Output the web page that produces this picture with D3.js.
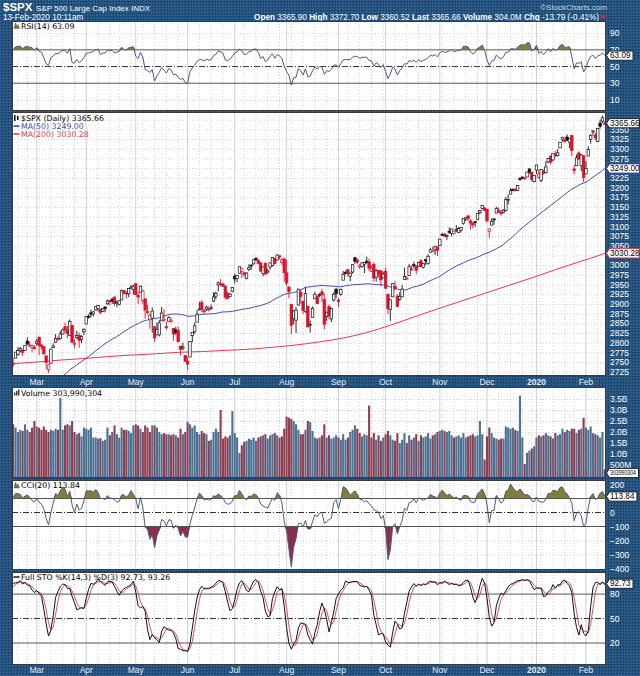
<!DOCTYPE html>
<html><head><meta charset="utf-8">
<script src="https://cdn.jsdelivr.net/npm/d3@7"></script>
<style>body{margin:0;background:#24517e}svg{display:block}</style>
</head><body><svg id="c" width="640" height="676"></svg>
<script>
// ---------------- DATA ----------------
// Daily OHLC of $SPX, 2 Jan 2019 .. 13 Feb 2020 (Jan 2019 - 13 Feb 2019 only used as indicator warm-up)
const opens = [
2477,2492,2474,2536,2568,2580,2573,2588,2580,2585,2614,2609,2651,2657,2643,2638,2657,2644,2644,2654,2686,
2702,2706,2727,2735,2717,2692,2712,2722,2750,2744,2760,2769,2779,2781,2780,2804,2792,2787,2788,
2798,2814,2794,2790,2766,2730,2747,2787,2800,2811,2810,2822,2841,2831,2819,2844,2796,2813,2819,2809,2828,
2848,2868,2877,2874,2884,2888,2886,2881,2892,2900,2908,2912,2916,2904,2899,2910,2934,2928,2926,2941,2937,
2952,2922,2929,2908,2913,2880,2859,2863,2841,2820,2820,2856,2859,2841,2855,2856,2837,2833,2831,2791,2786,2767,
2752,2763,2818,2828,2853,2886,2903,2882,2886,2887,2889,2907,2920,2949,2952,2951,2946,2926,2919,2932,
2971,2965,2979,2984,2980,2965,2989,3000,3003,3018,3012,3006,2978,3005,2982,2995,2999,3017,3013,3024,3007,3016,
2980,2943,2899,2862,2858,2897,2930,2907,2880,2894,2847,2865,2913,2919,2922,2931,2911,2867,2893,2861,2910,2938,
2910,2925,2961,2981,2988,2971,2982,3019,3013,2997,2996,3002,3010,3008,2984,3002,2969,2986,2985,2967,
2984,2925,2885,2918,2945,2920,2912,2918,2963,2965,2973,2990,3001,2996,2997,3011,2994,3014,3004,3033,3036,3040,3047,
3050,3079,3080,3075,3087,3082,3081,3090,3084,3090,3107,3118,3127,3114,3108,3112,3118,3135,3146,3147,
3144,3087,3103,3119,3134,3141,3136,3136,3141,3167,3183,3195,3195,3192,3223,3227,3225,3227,3248,3240,3215,
3245,3226,3218,3242,3238,3266,3281,3271,3285,3282,3302,3324,3321,3330,3316,3334,3248,3256,3289,3256,3282,
3235,3281,3324,3344,3335,3319,3366,3371,3365.9];
const highs = [
2519,2493,2538,2566,2580,2595,2598,2596,2589,2613,2625,2645,2675,2658,2653,2647,2673,2645,2655,2690,2708,
2716,2725,2738,2739,2719,2708,2718,2749,2762,2761,2776,2788,2789,2782,2793,2814,2804,2795,2793,
2809,2816,2796,2790,2767,2744,2784,2798,2822,2816,2830,2836,2852,2843,2860,2846,2809,2830,2826,2819,2837,
2869,2873,2885,2881,2893,2895,2886,2889,2893,2911,2909,2916,2921,2908,2910,2937,2936,2933,2940,2949,2949,
2954,2931,2947,2937,2913,2898,2875,2891,2841,2852,2859,2892,2886,2853,2868,2865,2837,2841,2841,2792,2800,2768,
2763,2804,2827,2852,2884,2905,2910,2888,2895,2894,2898,2930,2932,2958,2964,2955,2947,2932,2929,2943,
2978,2973,2996,2994,2981,2981,3002,3002,3014,3018,3015,3006,2996,3007,2991,3006,3020,3017,3028,3025,3018,3017,
3014,2946,2899,2884,2892,2939,2936,2907,2943,2894,2857,2893,2931,2923,2928,2939,2927,2880,2899,2890,2930,2940,
2915,2939,2985,2985,2989,2980,3002,3021,3017,3003,3006,3008,3022,3017,2999,3007,2990,2987,2988,2983,
2993,2925,2911,2953,2959,2925,2930,2949,2993,2972,3003,2998,3009,3000,3008,3015,3005,3016,3028,3044,3048,3050,3047,
3067,3083,3083,3079,3097,3093,3088,3103,3098,3098,3120,3124,3128,3118,3111,3112,3133,3142,3154,3150,
3144,3094,3120,3120,3150,3149,3142,3144,3176,3182,3198,3198,3199,3206,3226,3228,3226,3240,3248,3240,3231,
3258,3247,3247,3245,3268,3276,3282,3288,3295,3299,3317,3330,3329,3337,3326,3334,3258,3285,3293,3286,3282,
3268,3306,3337,3347,3341,3353,3375,3385,3372.7];
const lows = [
2467,2444,2474,2525,2548,2568,2562,2577,2570,2585,2612,2606,2647,2617,2612,2627,2657,2619,2633,2648,2678,
2697,2700,2724,2728,2687,2682,2704,2722,2748,2738,2760,2767,2775,2765,2779,2794,2789,2775,2782,
2792,2768,2782,2768,2732,2722,2747,2786,2800,2804,2808,2822,2823,2811,2817,2800,2785,2809,2787,2799,2819,
2848,2862,2865,2867,2883,2880,2873,2879,2878,2898,2896,2900,2895,2891,2896,2910,2926,2913,2917,2939,2924,
2923,2900,2929,2900,2862,2873,2836,2826,2801,2820,2816,2856,2854,2832,2855,2852,2805,2820,2801,2767,2780,2750,
2729,2763,2801,2823,2853,2885,2878,2874,2882,2880,2886,2905,2912,2932,2946,2944,2911,2912,2917,2930,
2953,2956,2979,2967,2970,2963,2984,2988,3001,3010,3002,2984,2971,2976,2978,2988,2996,3001,3012,3015,3000,2958,
2945,2914,2822,2847,2825,2895,2900,2874,2877,2839,2826,2865,2913,2899,2917,2905,2834,2856,2860,2853,2906,2914,
2891,2921,2961,2976,2970,2958,2978,3003,3002,2990,2993,2979,3003,2984,2982,2957,2957,2968,2946,2967,
2938,2874,2856,2918,2935,2892,2907,2918,2963,2962,2973,2986,2992,2976,2995,2995,2991,3000,3001,3033,3035,3026,3023,
3050,3075,3072,3065,3080,3074,3078,3085,3083,3084,3104,3113,3114,3091,3095,3099,3118,3131,3143,3140,
3110,3070,3103,3104,3134,3135,3127,3134,3138,3156,3183,3191,3191,3191,3217,3221,3220,3227,3235,3216,3213,
3235,3223,3214,3233,3236,3263,3260,3268,3277,3280,3302,3318,3316,3320,3301,3281,3234,3256,3271,3242,3214,
3235,3281,3313,3334,3322,3317,3352,3366,3360.5];
const closes = [
2510.0,2447.9,2531.9,2549.7,2574.4,2585.0,2596.6,2596.3,2582.6,2610.3,2616.1,2636.0,2670.7,2632.9,2638.7,2642.3,2664.8,2643.9,2640.0,2681.1,2704.1,
2706.5,2724.9,2737.7,2731.6,2706.1,2707.9,2709.8,2744.7,2753.0,2745.7,2775.6,2779.8,2784.7,2774.9,2792.7,2796.1,2793.9,2792.4,2784.5,
2803.7,2792.8,2789.7,2771.5,2748.9,2743.1,2783.3,2791.5,2810.9,2808.5,2822.5,2832.9,2832.6,2824.2,2854.9,2800.7,2798.4,2818.5,2805.4,2815.4,2834.4,
2867.2,2867.2,2873.4,2879.4,2892.7,2895.8,2878.2,2888.2,2888.3,2907.4,2905.6,2907.1,2900.5,2905.0,2908.0,2933.7,2927.3,2926.2,2939.9,2943.0,2945.8,
2923.7,2917.5,2945.6,2932.5,2884.1,2879.4,2870.7,2881.4,2811.9,2834.4,2851.0,2876.3,2859.5,2840.2,2864.4,2856.3,2822.2,2826.1,2802.4,2783.0,2788.9,2752.1,
2744.5,2803.3,2826.2,2843.5,2873.3,2886.7,2885.7,2879.8,2891.6,2887.0,2889.7,2917.8,2926.5,2954.2,2950.5,2945.4,2917.4,2913.8,2924.9,2941.8,
2964.3,2973.0,2995.8,2990.4,2976.0,2979.6,2993.1,2999.9,3013.8,3014.3,3004.0,2984.4,2995.1,2976.6,2985.0,3005.5,3019.6,3003.7,3025.9,3021.0,3013.2,2980.4,
2953.6,2932.1,2844.7,2881.8,2884.0,2938.1,2918.7,2882.7,2926.3,2840.6,2847.6,2888.7,2923.7,2900.5,2924.4,2923.0,2847.1,2878.4,2869.2,2887.9,2924.6,2926.5,
2906.3,2937.8,2976.0,2978.7,2978.4,2979.4,3000.9,3009.6,3007.4,2998.0,3005.7,3006.7,3006.8,2992.1,2991.8,2966.6,2984.9,2977.6,2961.8,2976.7,
2940.3,2887.6,2910.6,2952.0,2938.8,2893.1,2919.4,2938.1,2970.3,2966.2,2995.7,2989.7,2998.0,2986.2,3006.7,2996.0,3004.5,3010.3,3022.6,3039.4,3036.9,3046.8,3037.6,
3066.9,3078.3,3074.6,3076.8,3085.2,3093.1,3087.0,3091.8,3094.0,3096.6,3120.5,3122.0,3120.2,3108.5,3103.5,3110.3,3133.6,3140.5,3153.6,3141.0,
3113.9,3093.2,3112.8,3117.4,3145.9,3136.0,3132.5,3141.6,3168.6,3168.8,3191.5,3192.5,3191.1,3205.4,3221.2,3224.0,3223.4,3239.9,3240.0,3221.3,3230.8,
3257.9,3234.9,3246.3,3237.2,3253.1,3274.7,3265.4,3288.1,3283.2,3289.3,3316.8,3329.6,3320.8,3321.8,3325.5,3295.5,3243.6,3276.2,3273.4,3283.7,3225.5,
3248.9,3297.6,3334.7,3345.8,3327.7,3352.1,3357.8,3379.5,3365.66];
// Volume (billions) for the displayed bars, 14 Feb 2019 .. 13 Feb 2020
const volumes = [
2.35,2.2,2.0,2.1,2.05,2.35,2.1,2.0,2.2,2.5,
2.25,2.2,2.1,2.25,2.1,2.0,2.1,2.05,2.15,2.1,3.55,2.1,2.3,2.35,2.3,2.5,2.0,1.9,1.95,1.8,2.2,
2.15,2.1,2.2,1.75,1.75,1.7,1.72,1.6,1.65,2.2,1.85,2.0,2.3,1.9,1.75,2.2,2.1,2.1,2.05,1.95,2.3,
2.35,2.3,2.15,2.0,2.3,2.2,2.0,2.3,2.3,2.2,2.0,1.9,1.95,1.9,1.9,1.85,1.9,1.85,1.75,2.15,1.9,2.0,
2.45,2.35,2.2,2.3,2.0,1.9,2.05,1.95,1.9,1.6,1.65,2.0,2.15,2.0,3.0,1.7,1.8,1.75,1.85,2.95,
1.95,1.75,1.05,1.4,1.55,1.6,1.7,1.65,1.75,1.6,1.75,1.8,1.85,1.9,1.7,1.85,1.9,1.95,1.85,1.75,1.8,2.15,
2.7,2.65,2.6,2.5,2.35,2.1,1.9,1.9,2.1,2.5,2.45,2.05,1.75,1.7,1.75,1.85,2.35,1.75,1.85,1.7,1.75,1.85,
1.75,1.65,1.9,1.65,1.75,2.0,2.1,2.3,2.15,1.95,1.8,1.9,1.85,3.2,1.75,1.95,1.65,1.85,1.6,1.75,
1.9,2.05,1.85,1.65,1.6,1.95,1.5,1.65,1.95,1.5,1.85,1.65,1.75,1.9,1.6,1.85,1.75,1.8,1.95,1.7,1.85,1.9,2.0,
2.05,2.1,2.05,2.0,2.05,1.85,1.75,1.8,1.85,1.75,1.95,1.75,1.8,1.85,1.9,1.8,1.85,2.5,1.9,0.75,
1.8,2.2,1.95,1.75,1.7,1.65,1.7,1.7,2.25,2.2,2.15,2.2,2.1,2.05,3.65,1.75,0.55,1.05,1.15,1.25,1.35,
1.75,1.85,1.8,1.85,1.95,1.85,1.8,1.7,1.95,1.85,1.9,2.15,2.0,2.1,2.05,2.15,2.15,1.95,2.1,2.15,2.65,
2.2,2.1,2.25,1.95,1.9,1.85,1.75,2.0,0.304];
// MA(200), at displayed-bar positions
const ma200Bars   = [0,10,20,30,40,50,60,70,80,90,100,110,120,130,140,150,160,170,180,190,200,210,220,230,240,250,251];
const ma200Values = [2746,2750,2755,2759,2764,2768,2771,2775,2777,2780,2783,2788,2794,2802,2812,2826,2845,2866,2887,2907,2927,2947,2967,2988,3008,3028,3030.28];
const holidays = ["2019-01-21","2019-02-18","2019-04-19","2019-05-27","2019-07-04","2019-09-02","2019-11-28","2019-12-25","2020-01-01","2020-01-20"];
const priceTicks = [2725,2750,2775,2800,2825,2850,2875,2900,2925,2950,2975,3000,3025,3050,3075,3100,3125,3150,3175,3200,3225,3250,3275,3300,3325,3350,3375];
const rsiTicks = [10,30,50,70,90];
const volTicks = [0.5,1.0,1.5,2.0,2.5,3.0,3.5];
const cciTicks = [200,100,0,-100,-200,-300,-400];
const stoTicks = [80,50,20];
const lastValues = {rsi:"63.09", price:"3365.66", ma50:"3249.00", ma200:"3030.28", vol:"303,990,304", cci:"113.84", k:"92.73", d:"93.26"};
const quoteLabels = ["Open","High","Low","Last","Volume","Chg"];
const quoteValues = ["3365.90","3372.70","3360.52","3365.66","304.0M","-13.79 (-0.41%)"];

// ---------------- SETUP ----------------
const W=640,H=676,L=12,R=606;
const svg=d3.select("#c");
const defs=svg.append("defs");
const pat=defs.append("pattern").attr("id","tex").attr("width",3).attr("height",3).attr("patternUnits","userSpaceOnUse");
pat.append("rect").attr("width",3).attr("height",3).attr("fill","#24507c");
pat.append("rect").attr("x",0).attr("y",0).attr("width",1).attr("height",1).attr("fill","#3c6f9f");
pat.append("rect").attr("x",2).attr("y",1).attr("width",1).attr("height",1).attr("fill","#163a60");
pat.append("rect").attr("x",1).attr("y",2).attr("width",1).attr("height",1).attr("fill","#2e5e8c");
svg.append("rect").attr("width",W).attr("height",H).attr("fill","url(#tex)");

function tradingDays(s,e){const out=[];const d=new Date(s+"T00:00:00Z"),end=new Date(e+"T00:00:00Z");
  while(d<=end){const wd=d.getUTCDay(),k=d.toISOString().slice(0,10);
    if(wd>0&&wd<6&&!holidays.includes(k))out.push(new Date(d));d.setUTCDate(d.getUTCDate()+1);}return out;}
const dates=tradingDays("2019-01-02","2020-02-13");
const N=closes.length, OFF=N-volumes.length;
const vis=d3.range(OFF,N);
const x=d3.scaleBand().domain(vis).range([L,R]);
const bw=x.bandwidth(), cx=i=>x(i)+bw/2;

// ---------------- INDICATORS (from the price arrays) ----------------
const rsi=new Array(N).fill(null);
{let ag=0,al=0;for(let i=1;i<=14;i++){const c=closes[i]-closes[i-1];if(c>0)ag+=c;else al-=c;}ag/=14;al/=14;rsi[14]=100-100/(1+ag/al);
 for(let i=15;i<N;i++){const c=closes[i]-closes[i-1];ag=(ag*13+Math.max(c,0))/14;al=(al*13+Math.max(-c,0))/14;rsi[i]=100-100/(1+ag/al);}}
const tp=closes.map((c,i)=>(c+highs[i]+lows[i])/3);
const cci=new Array(N).fill(null);
for(let i=19;i<N;i++){const s=tp.slice(i-19,i+1);const m=d3.mean(s);const md=d3.mean(s,v=>Math.abs(v-m));cci[i]=(tp[i]-m)/(0.015*md);}
const rawK=new Array(N).fill(null),K=new Array(N).fill(null),D=new Array(N).fill(null);
for(let i=13;i<N;i++){const hh=d3.max(highs.slice(i-13,i+1)),ll=d3.min(lows.slice(i-13,i+1));rawK[i]=(closes[i]-ll)/(hh-ll)*100;}
for(let i=15;i<N;i++)K[i]=(rawK[i]+rawK[i-1]+rawK[i-2])/3;
for(let i=17;i<N;i++)D[i]=(K[i]+K[i-1]+K[i-2])/3;
const ma50=new Array(N).fill(null);
for(let i=49;i<N;i++)ma50[i]=d3.mean(closes.slice(i-49,i+1));

// ---------------- PANELS ----------------
const P={rsi:[21,111],price:[112,376],vol:[387,478],cci:[480,570],sto:[572,665]};
const yR=d3.scaleLinear().domain([0,100]).range([108.3,24.8]);
const yP=d3.scaleLinear().domain([2714,3394.6]).range([376,112]);
const yV=d3.scaleLinear().domain([0,4]).range([476,388]);
const yC=d3.scaleLinear().domain([-400,200]).range([568.5,484.5]);
const yS=d3.scaleLinear().domain([0,100]).range([659.3,577.8]);

const monthStarts=vis.filter(i=>i>OFF&&dates[i].getUTCMonth()!==dates[i-1].getUTCMonth());
const weekStarts=vis.filter(i=>i>OFF&&(dates[i].getUTCDay()<=dates[i-1].getUTCDay()||(dates[i]-dates[i-1])>=6*864e5));
const FONT="'DejaVu Sans',Verdana,sans-serif", AFONT="'Liberation Sans',Arial,sans-serif";

function panel(key,hGrid,yS_){
  const [t,b]=P[key];
  svg.append("rect").attr("x",L).attr("y",t).attr("width",R-L).attr("height",b-t).attr("fill","#fff");
  defs.append("clipPath").attr("id","clip-"+key).append("rect").attr("x",L).attr("y",t).attr("width",R-L).attr("height",b-t);
  const g=svg.append("g").attr("clip-path",`url(#clip-${key})`);
  g.selectAll(null).data(weekStarts).join("line").attr("x1",cx).attr("x2",cx).attr("y1",t).attr("y2",b)
    .attr("stroke","#c9c9c9").attr("stroke-width",0.8).attr("stroke-dasharray","1,2");
  g.selectAll(null).data(monthStarts).join("line").attr("x1",cx).attr("x2",cx).attr("y1",t).attr("y2",b)
    .attr("stroke","#d2d2d2").attr("stroke-width",1);
  g.selectAll(null).data(hGrid).join("line").attr("x1",L).attr("x2",R).attr("y1",d=>yS_(d)+0.5).attr("y2",d=>yS_(d)+0.5)
    .attr("stroke","#c9c9c9").attr("stroke-width",0.8).attr("stroke-dasharray","1,2");
  return g;
}
function frame(key){const [t,b]=P[key];
  svg.append("rect").attr("x",L+0.5).attr("y",t+0.5).attr("width",R-L-1).attr("height",b-t-1).attr("fill","none").attr("stroke","#3a3a3a").attr("stroke-width",1);}
function level(g,y,v,dash){g.append("line").attr("x1",L).attr("x2",R).attr("y1",y(v)).attr("y2",y(v))
  .attr("stroke",dash?"#333":"#555").attr("stroke-width",1).attr("stroke-dasharray",dash?"6,2,1,2":null);}
function rightAxis(scale,vals,fmt,avoid){
  const keep=vals.filter(v=>(avoid||[]).every(a=>Math.abs(scale(v)-a)>=5.5));
  const g=svg.append("g").attr("transform",`translate(${R+4},0)`)
    .call(d3.axisRight(scale).tickValues(keep).tickFormat(fmt).tickSize(0).tickPadding(0));
  g.select(".domain").remove();
  g.selectAll("text").attr("fill","#fff").style("font-family",AFONT).style("font-size","8.5px");
}
function boxLabel(y,text,border,fs,maxW){
  const g=svg.append("g");
  const t=g.append("text").attr("x",R+4).attr("y",y).attr("dy","0.33em").style("font-family",AFONT).style("font-size",(fs||8.2)+"px").attr("fill","#000").text(text);
  let w=t.node().getComputedTextLength();
  if(maxW&&w>maxW){t.attr("textLength",maxW).attr("lengthAdjust","spacingAndGlyphs");w=maxW;}
  const x0=R+0.5,x1=Math.min(639.5,R+5+w+1.5);
  g.insert("path","text").attr("d",`M${x0},${y}L${x0+3},${y-4.6}L${x1},${y-4.6}L${x1},${y+4.6}L${x0+3},${y+4.6}Z`)
    .attr("fill","#fff").attr("stroke",border).attr("stroke-width",1);
}
function legend(key,y,parts,icon){
  const t=svg.append("text").attr("x",21).attr("y",y).style("font-family",FONT).style("font-size","7.8px");
  parts.forEach(p=>t.append("tspan").attr("fill",p[1]).text(p[0]));
  if(icon)icon(y);
}
const mountain=(y)=>svg.append("path").attr("d",`M14,${y}L15.5,${y-6}L17,${y-2}L18,${y-4}L19.5,${y}Z`).attr("fill","#7d7434").attr("stroke","#444").attr("stroke-width",0.4);

// ---------------- HEADER ----------------
svg.append("text").attr("x",3).attr("y",11).attr("fill","#fff").style("font-family",AFONT).style("font-weight","bold").style("font-size","11.5px").text("$SPX");
svg.append("text").attr("x",36).attr("y",10.5).attr("fill","#fff").style("font-family",AFONT).style("font-size","8px").text("S&P 500 Large Cap Index  INDX");
svg.append("text").attr("x",607).attr("y",10).attr("text-anchor","end").attr("fill","#c8d4e2").style("font-family",AFONT).style("font-size","8px").text("\u00A9StockCharts.com");
svg.append("text").attr("x",3).attr("y",19.8).attr("fill","#fff").style("font-family",AFONT).style("font-size","8.2px").text("13-Feb-2020 10:11am");
{const t=svg.append("text").attr("x",599).attr("y",19.8).attr("text-anchor","end").attr("fill","#fff").style("font-family",AFONT).style("font-size","8.2px");
 quoteLabels.forEach((l,i)=>{t.append("tspan").style("font-weight","bold").text((i?"  ":"")+l+" ");t.append("tspan").text(quoteValues[i]);});
 svg.append("path").attr("d","M601,15.5L606,15.5L603.5,20Z").attr("fill","#e8202a");}

// ---------------- RSI ----------------
{const g=panel("rsi",[10,90],yR);
 const ar=d3.area().x(cx).y0(yR(70)).y1(i=>yR(Math.max(rsi[i],70)));
 g.append("path").datum(vis).attr("d",ar).attr("fill","#857b3b");
 const ar2=d3.area().x(cx).y0(yR(30)).y1(i=>yR(Math.min(rsi[i],30)));
 g.append("path").datum(vis).attr("d",ar2).attr("fill","#8c2c50");
 level(g,yR,70);level(g,yR,30);level(g,yR,50,true);
 g.append("path").datum(vis).attr("d",d3.line().x(cx).y(i=>yR(rsi[i]))).attr("fill","none").attr("stroke","#4d5d78").attr("stroke-width",1);
 frame("rsi");
 legend("rsi",28.5,[["RSI(14) "+lastValues.rsi,"#000"]],mountain);
 rightAxis(yR,rsiTicks,d3.format("d"),[yR(+lastValues.rsi)]);boxLabel(yR(+lastValues.rsi),lastValues.rsi,"#222");}

// ---------------- PRICE ----------------
{const g=panel("price",priceTicks,yP);
 g.append("path").datum(ma200Bars).attr("d",d3.line().curve(d3.curveMonotoneX).x(b=>cx(OFF+b)).y((b,k)=>yP(ma200Values[k])))
   .attr("fill","none").attr("stroke","#e8374a").attr("stroke-width",1);
 g.append("path").datum(vis.filter(i=>ma50[i]!=null)).attr("d",d3.line().x(cx).y(i=>yP(ma50[i])))
   .attr("fill","none").attr("stroke","#3d4aa6").attr("stroke-width",1);
 const col=i=>closes[i]>=closes[i-1]?"#111":"#e0102a";
 const c=g.selectAll(null).data(vis).join("g");
 c.append("line").attr("x1",i=>cx(i)).attr("x2",i=>cx(i)).attr("y1",i=>yP(highs[i])).attr("y2",i=>yP(lows[i])).attr("stroke",col).attr("stroke-width",0.9);
 c.append("rect").attr("x",i=>cx(i)-1.25).attr("width",2.5)
   .attr("y",i=>yP(Math.max(opens[i],closes[i])))
   .attr("height",i=>Math.max(1,Math.abs(yP(opens[i])-yP(closes[i]))))
   .attr("fill",i=>closes[i]>opens[i]?"#fff":col(i)).attr("stroke",col).attr("stroke-width",0.7);
 frame("price");
 legend("price",121,[["$SPX (Daily) "+lastValues.price,"#000"]],y=>{svg.append("rect").attr("x",14).attr("y",y-6).attr("width",1.5).attr("height",6).attr("fill","#000");svg.append("rect").attr("x",17).attr("y",y-5).attr("width",1.5).attr("height",4).attr("fill","#000");});
 legend("price",128.6,[["MA(50) "+lastValues.ma50,"#3d4aa6"]],y=>svg.append("line").attr("x1",13.5).attr("x2",19.5).attr("y1",y-2.5).attr("y2",y-2.5).attr("stroke","#3d4aa6").attr("stroke-width",1.6));
 legend("price",136.5,[["MA(200) "+lastValues.ma200,"#e8374a"]],y=>svg.append("line").attr("x1",13.5).attr("x2",19.5).attr("y1",y-2.5).attr("y2",y-2.5).attr("stroke","#e8374a").attr("stroke-width",1.6));
 rightAxis(yP,priceTicks,d3.format("d"),[yP(+lastValues.ma200),yP(+lastValues.ma50),yP(+lastValues.price)]);
 boxLabel(yP(+lastValues.ma200),lastValues.ma200,"#e8374a");
 boxLabel(yP(+lastValues.ma50),lastValues.ma50,"#3d4aa6");
 boxLabel(yP(+lastValues.price),lastValues.price,"#222");}

// ---------------- DATE AXES ----------------
function dateAxis(y){
  const g=svg.append("g").attr("transform",`translate(0,${y})`)
    .call(d3.axisBottom(x).tickValues(monthStarts).tickSize(0).tickPadding(0)
      .tickFormat(i=>dates[i].getUTCMonth()===0?String(dates[i].getUTCFullYear()):d3.utcFormat("%b")(dates[i])));
  g.select(".domain").remove();
  g.selectAll("text").attr("fill","#e6ecf3").style("font-family",AFONT).style("font-size","8.5px")
    .style("font-weight",i=>dates[i].getUTCMonth()===0?"bold":"normal");
}
dateAxis(378.5);dateAxis(667);

// ---------------- VOLUME ----------------
{const g=panel("vol",volTicks,yV);
 g.selectAll(null).data(vis).join("rect").attr("x",i=>cx(i)-1.05).attr("width",2.1)
  .attr("y",i=>yV(volumes[i-OFF])).attr("height",i=>P.vol[1]-yV(volumes[i-OFF]))
  .attr("fill",i=>closes[i]>=closes[i-1]?"#4d7193":"#8f3d50");
 frame("vol");
 legend("vol",395.5,[["Volume "+lastValues.vol,"#000"]],y=>{[14,16,18].forEach((xx,k)=>svg.append("rect").attr("x",xx).attr("y",y-3-k*1.5).attr("width",1.4).attr("height",3+k*1.5).attr("fill","#333"));});
 rightAxis(yV,volTicks,v=>v<1?(v*1000)+"M":v.toFixed(1)+"B");
 boxLabel(473,lastValues.vol.replace(/,/g,""),"#222",6.4,26);}

// ---------------- CCI ----------------
{const g=panel("cci",[200,-200,-300],yC);
 g.append("path").datum(vis).attr("d",d3.area().x(cx).y0(yC(100)).y1(i=>yC(Math.max(cci[i],100)))).attr("fill","#857b3b");
 g.append("path").datum(vis).attr("d",d3.area().x(cx).y0(yC(-100)).y1(i=>yC(Math.min(cci[i],-100)))).attr("fill","#8c2c50");
 level(g,yC,100);level(g,yC,-100);level(g,yC,0,true);
 g.append("path").datum(vis).attr("d",d3.line().x(cx).y(i=>yC(cci[i]))).attr("fill","none").attr("stroke","#4d5d78").attr("stroke-width",1);
 frame("cci");
 legend("cci",488,[["CCI(20) "+lastValues.cci,"#000"]],mountain);
 rightAxis(yC,cciTicks,d3.format("d"),[yC(+lastValues.cci)]);boxLabel(yC(+lastValues.cci),lastValues.cci,"#222");}

// ---------------- FULL STO ----------------
{const g=panel("sto",[],yS);
 level(g,yS,80);level(g,yS,20);level(g,yS,50,true);
 g.append("path").datum(vis).attr("d",d3.line().x(cx).y(i=>yS(D[i]))).attr("fill","none").attr("stroke","#d04050").attr("stroke-width",0.9);
 g.append("path").datum(vis).attr("d",d3.line().x(cx).y(i=>yS(K[i]))).attr("fill","none").attr("stroke","#111").attr("stroke-width",1);
 frame("sto");
 legend("sto",579.5,[["Full STO %K(14,3) %D(3) "+lastValues.k+", "+lastValues.d,"#000"]],y=>svg.append("line").attr("x1",13.5).attr("x2",19.5).attr("y1",y-2.5).attr("y2",y-2.5).attr("stroke","#222").attr("stroke-width",1.6));
 rightAxis(yS,stoTicks,d3.format("d"),[yS(+lastValues.k)]);boxLabel(yS(+lastValues.k),lastValues.k,"#222");}
</script></body></html>
